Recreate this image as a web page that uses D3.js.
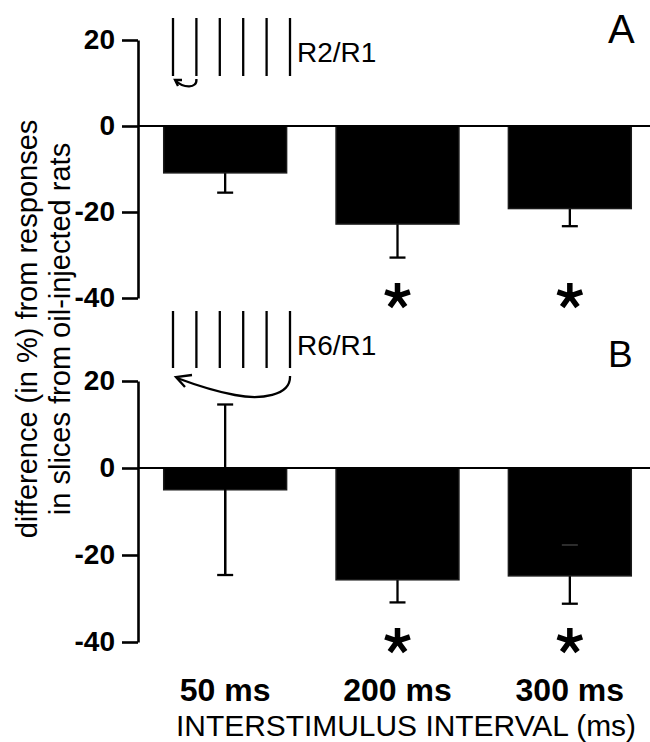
<!DOCTYPE html>
<html>
<head>
<meta charset="utf-8">
<script src="https://cdn.jsdelivr.net/npm/d3@7"></script>
<style>
  body { margin: 0; background: #fff; }
  svg { display: block; font-family: "Liberation Sans", Arial, sans-serif; }
</style>
</head>
<body>
<svg></svg>
<script>
// data
let categories = ["50 ms", "200 ms", "300 ms"]
let tickValues = [20, 0, -20, -40]

// panel A: R2/R1
let valuesA = [-10.9, -22.8, -19.2]
let errA = [4.6, 7.8, 4.1]
let errUpA = [false, false, false]
let signifA = [false, true, true]

// panel B: R6/R1
let valuesB = [-5.0, -25.7, -24.8]
let errB = [19.6, 5.2, 6.4]
let errUpB = [true, false, false]
let signifB = [false, true, true]

let pulses = [1, 2, 3, 4, 5, 6]

let width = 650
let height = 742
let axisX = 138

let svg = d3.select('svg')
  .attr('width', width)
  .attr('height', height)

let xScale = d3.scaleBand()
  .domain(categories)
  .range([139, 656])
  .paddingInner(0.287)
  .paddingOuter(0.1435)

let pulseScale = d3.scaleLinear()
  .domain([1, 6])
  .range([173, 290])

// five-armed asterisk used for significance
let asterisk = {
  draw: (context, size) => {
    let r = Math.sqrt(size)
    for (let k = 0; k < 5; k++) {
      let a = (-90 + k * 72) * Math.PI / 180
      context.moveTo(0, 0)
      context.lineTo(r * Math.cos(a), r * Math.sin(a))
    }
  }
}

// function: drawPanel
let drawPanel = (p) => {
  let yScale = d3.scaleLinear().domain([-40, 20]).range([p.bottom, p.top])

  let rows = categories.map((c, i) => ({
    cat: c, v: p.values[i], e: p.err[i], up: p.errUp[i], sig: p.signif[i]
  }))

  let cx = (d) => xScale(d.cat) + xScale.bandwidth() / 2

  let g = svg.append('g')

  // error bars (drawn first so the bar covers the inner half)
  let eb = g.selectAll('.err')
    .data(rows)
    .enter()
    .append('g')
    .attr('class', 'err')
    .attr('stroke', '#000')
    .attr('stroke-width', 2.3)
  eb.append('line')
    .attr('x1', cx)
    .attr('x2', cx)
    .attr('y1', d => yScale(d.v))
    .attr('y2', d => yScale(d.v - d.e))
  eb.append('line')
    .attr('x1', d => cx(d) - 8)
    .attr('x2', d => cx(d) + 8)
    .attr('y1', d => yScale(d.v - d.e))
    .attr('y2', d => yScale(d.v - d.e))

  g.selectAll('.bar')
    .data(rows)
    .enter()
    .append('rect')
    .attr('class', 'bar')
    .attr('fill', '#000')
    .attr('stroke', '#1a1a1a')
    .attr('stroke-width', 1.5)
    .attr('x', d => xScale(d.cat))
    .attr('width', xScale.bandwidth())
    .attr('y', d => yScale(Math.max(0, d.v)))
    .attr('height', d => Math.abs(yScale(d.v) - yScale(0)))

  // upward error bars sit on top of the bars
  let ebUp = g.selectAll('.errup')
    .data(rows.filter(d => d.up))
    .enter()
    .append('g')
    .attr('class', 'errup')
    .attr('stroke', '#000')
    .attr('stroke-width', 2.3)
  ebUp.append('line')
    .attr('x1', cx)
    .attr('x2', cx)
    .attr('y1', d => yScale(d.v - d.e))
    .attr('y2', d => yScale(d.v + d.e))
  ebUp.append('line')
    .attr('x1', d => cx(d) - 8)
    .attr('x2', d => cx(d) + 8)
    .attr('y1', d => yScale(d.v + d.e))
    .attr('y2', d => yScale(d.v + d.e))

  // faint cap visible inside the bar
  if (p.faint) {
    let d = rows[p.faint.index]
    g.append('line')
      .attr('stroke', '#3c3c3c')
      .attr('stroke-width', 1.5)
      .attr('x1', cx(d) - 8)
      .attr('x2', cx(d) + 8)
      .attr('y1', yScale(p.faint.value))
      .attr('y2', yScale(p.faint.value))
  }

  // zero line
  g.append('line')
    .attr('stroke', '#000')
    .attr('stroke-width', 2)
    .attr('x1', axisX)
    .attr('x2', 650)
    .attr('y1', yScale(0))
    .attr('y2', yScale(0))

  // axis
  let yAxis = d3.axisLeft(yScale)
    .tickValues(tickValues)
    .tickFormat(d => String(d))
    .tickSize(16)
    .tickSizeOuter(0)
    .tickPadding(7)
  let ax = g.append('g')
    .attr('transform', 'translate(' + axisX + ',0)')
    .call(yAxis)
  ax.select('.domain').attr('stroke-width', 2.6)
  ax.selectAll('.tick line').attr('stroke-width', 2.6)
  ax.selectAll('.tick text')
    .attr('font-family', '"Liberation Sans", Arial, sans-serif')
    .attr('font-size', 28)
    .attr('font-weight', 'bold')
    .attr('fill', '#000')

  // significance stars
  g.selectAll('.star')
    .data(rows.filter(d => d.sig))
    .enter()
    .append('path')
    .attr('class', 'star')
    .attr('d', d3.symbol().type(asterisk).size(13 * 13))
    .attr('transform', d => 'translate(' + cx(d) + ',' + p.starY + ')')
    .attr('fill', 'none')
    .attr('stroke', '#000')
    .attr('stroke-width', 5.5)

  // panel letter
  g.append('text')
    .attr('x', 608)
    .attr('y', p.letterY)
    .attr('font-size', p.letterSize)
    .text(p.letter)

  // stimulus train inset
  g.selectAll('.pulse')
    .data(pulses)
    .enter()
    .append('line')
    .attr('class', 'pulse')
    .attr('stroke', '#000')
    .attr('stroke-width', 2.3)
    .attr('x1', d => pulseScale(d))
    .attr('x2', d => pulseScale(d))
    .attr('y1', p.pulseTop)
    .attr('y2', p.pulseBottom)

  g.append('text')
    .attr('x', 297)
    .attr('y', p.pulseTop + 44)
    .attr('font-size', 28)
    .text(p.ratio)

  // curved arrow from the compared pulse back to R1
  let from = pulseScale(p.ratioPulse)
  let to = pulseScale(1)
  let b = p.pulseBottom
  let path = d3.path()
  let head = d3.path()
  if (p.ratioPulse === 2) {
    path.moveTo(from, b + 3)
    path.bezierCurveTo(from + 1, b + 13, to + 10, b + 12, to + 3, b + 5)
    head.moveTo(to + 9, b + 4)
    head.lineTo(to + 2, b + 4)
    head.lineTo(to + 5, b + 10)
  } else {
    path.moveTo(from, b + 8)
    path.bezierCurveTo(from + 1, b + 28, from - 30, b + 32, from - 55, b + 27)
    path.bezierCurveTo(to + 40, b + 23, to + 20, b + 16, to + 4, b + 10)
    head.moveTo(to + 19, b + 7)
    head.lineTo(to + 3, b + 9)
    head.lineTo(to + 12, b + 19)
  }
  g.append('path')
    .attr('d', path.toString())
    .attr('fill', 'none')
    .attr('stroke', '#000')
    .attr('stroke-width', 2.3)
  g.append('path')
    .attr('d', head.toString())
    .attr('fill', 'none')
    .attr('stroke', '#000')
    .attr('stroke-width', 2.3)
}

drawPanel({
  values: valuesA, err: errA, errUp: errUpA, signif: signifA,
  top: 40, bottom: 298, starY: 296, letter: 'A', letterY: 43, letterSize: 40,
  pulseTop: 18, pulseBottom: 76, ratio: 'R2/R1', ratioPulse: 2
})

drawPanel({
  values: valuesB, err: errB, errUp: errUpB, signif: signifB,
  top: 381, bottom: 642, starY: 641, letter: 'B', letterY: 367, letterSize: 37,
  pulseTop: 311, pulseBottom: 368, ratio: 'R6/R1', ratioPulse: 6,
  faint: { index: 2, value: -17.7 }
})

// category labels
svg.selectAll('.cat')
  .data(categories)
  .enter()
  .append('text')
  .attr('class', 'cat')
  .attr('x', d => xScale(d) + xScale.bandwidth() / 2)
  .attr('y', 701)
  .attr('text-anchor', 'middle')
  .attr('font-size', 32)
  .attr('font-weight', 'bold')
  .text(d => d)

svg.append('text')
  .attr('x', 406)
  .attr('y', 736)
  .attr('text-anchor', 'middle')
  .attr('font-size', 29)
  .attr('textLength', 460)
  .attr('lengthAdjust', 'spacingAndGlyphs')
  .text('INTERSTIMULUS INTERVAL (ms)')

// y axis title
let yTitle = ['difference (in %) from responses', 'in slices from oil-injected rats']
svg.selectAll('.ytitle')
  .data(yTitle)
  .enter()
  .append('text')
  .attr('class', 'ytitle')
  .attr('transform', (d, i) => 'translate(' + (37 + i * 33) + ',329) rotate(-90)')
  .attr('text-anchor', 'middle')
  .attr('font-size', 29)
  .text(d => d)
</script>
</body>
</html>
